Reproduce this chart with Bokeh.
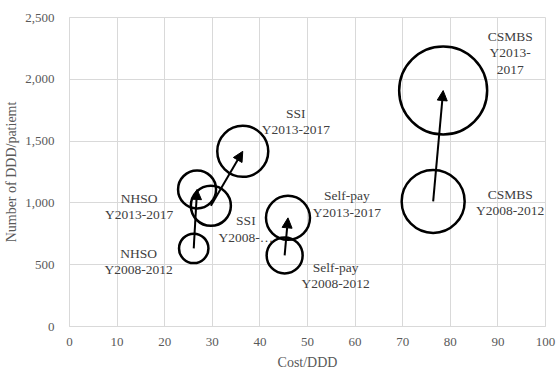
from bokeh.plotting import figure
from bokeh.models import ColumnDataSource, Arrow, NormalHead, NumeralTickFormatter, FixedTicker, Range1d
from bokeh.core.properties import value
from bokeh.embed import file_html
from bokeh.resources import INLINE
import numpy as np

# ---- data ----
groups = ["NHSO", "SSI", "Self-pay", "CSMBS"]
cost_2008 = [26.1, 29.7, 45.2, 76.4]
ddd_2008 = [632, 976, 575, 1012]
size_2008 = [216, 400, 324, 992]
cost_2013 = [26.8, 36.4, 45.9, 78.5]
ddd_2013 = [1109, 1417, 879, 1909]
size_2013 = [361, 650, 484, 1936]
labels_2008 = ["NHSO\nY2008-2012", "SSI\nY2008-\u2026", "Self-pay\nY2008-2012", "CSMBS\nY2008-2012"]
labels_2013 = ["NHSO\nY2013-2017", "SSI\nY2013-2017", "Self-pay\nY2013-2017", "CSMBS\nY2013-\n2017"]
x_ticks = [0, 10, 20, 30, 40, 50, 60, 70, 80, 90, 100]
y_ticks = [0, 500, 1000, 1500, 2000, 2500]

# ---- label offsets (screen px, style) ----
off_2008 = [(-55, 13), (35, 23), (51, 20), (77, 1)]
off_2013 = [(-58, 17), (53, -30), (59, -14), (67, -38)]

FONT = "Liberation Serif"
GRID = "#d9d9d9"

p = figure(frame_width=476, frame_height=309, output_backend="svg", toolbar_location=None,
           x_range=Range1d(0, 100), y_range=Range1d(0, 2500),
           min_border_left=69, min_border_right=12, min_border_top=17, min_border_bottom=43)
p.outline_line_color = GRID
p.background_fill_color = "white"
p.border_fill_color = "white"

p.xaxis.ticker = FixedTicker(ticks=x_ticks)
p.yaxis.ticker = FixedTicker(ticks=y_ticks)
p.yaxis.formatter = NumeralTickFormatter(format="0,0")
for ax in (p.xaxis, p.yaxis):
    ax.major_tick_line_color = None
    ax.minor_tick_line_color = None
    ax.axis_line_color = GRID
    ax.major_label_text_font = FONT
    ax.major_label_text_font_size = "13px"
    ax.major_label_text_color = "#595959"
    ax.axis_label_text_font = FONT
    ax.axis_label_text_font_size = "14px"
    ax.axis_label_text_font_style = "normal"
    ax.axis_label_text_color = "#595959"
p.xaxis.axis_label = "Cost/DDD"
p.yaxis.axis_label = "Number of DDD/patiemt"
p.xaxis.major_label_standoff = 5
p.yaxis.major_label_standoff = 9
p.xaxis.axis_label_standoff = 6
p.yaxis.axis_label_standoff = 3
p.xgrid.grid_line_color = GRID
p.ygrid.grid_line_color = GRID
p.xgrid.ticker = FixedTicker(ticks=x_ticks)
p.ygrid.ticker = FixedTicker(ticks=y_ticks)

src = ColumnDataSource(dict(
    x=cost_2008 + cost_2013,
    y=ddd_2008 + ddd_2013,
    d=[2 * np.sqrt(s) for s in size_2008 + size_2013],
    label=labels_2008 + labels_2013,
    dx=[o[0] for o in off_2008 + off_2013],
    dy=[o[1] for o in off_2008 + off_2013],
))

p.scatter("x", "y", size="d", source=src, marker="circle",
          fill_alpha=0, line_color="black", line_width=2.5)

arrow_src = ColumnDataSource(dict(x0=cost_2008, y0=ddd_2008, x1=cost_2013, y1=ddd_2013))
p.add_layout(Arrow(end=NormalHead(size=10, fill_color="black", line_color="black", line_width=1),
                   x_start="x0", y_start="y0", x_end="x1", y_end="y1",
                   source=arrow_src, line_width=2, line_color="black"))

p.text("x", "y", text="label", source=src, x_offset="dx", y_offset="dy",
       text_font=value(FONT), text_font_size="13.5px", text_color="#404040",
       text_align="center", text_baseline="middle", text_line_height=1.1)

open("out.html", "w").write(file_html(p, INLINE))
